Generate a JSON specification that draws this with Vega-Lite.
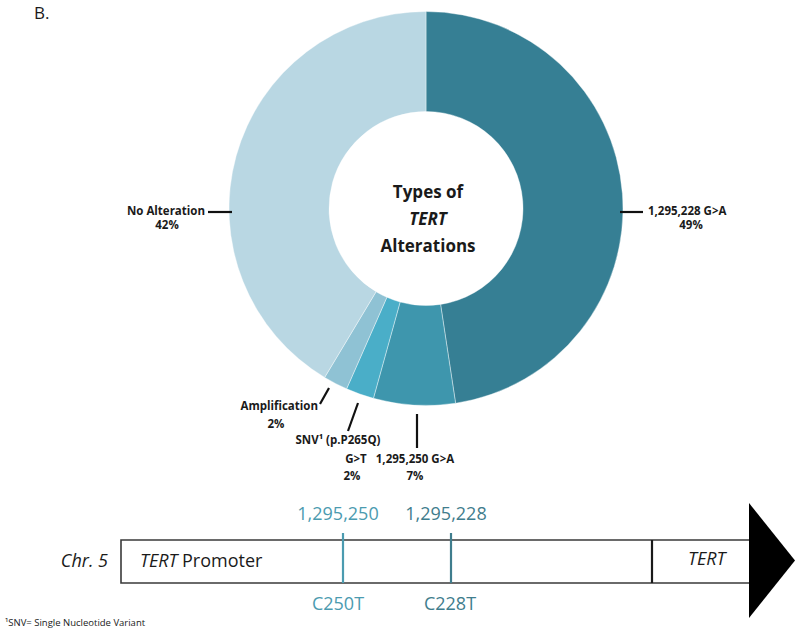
{
  "$schema": "https://vega.github.io/schema/vega-lite/v6.json",
  "width": 800,
  "height": 637,
  "autosize": {"type": "none"},
  "padding": 0,
  "background": "white",
  "config": {"view": {"stroke": null}, "text": {"font": "Open Sans"}},
  "datasets": {
    "pie": [
      {"alteration": "1,295,228 G>A", "percent": 47.6, "ord": 1},
      {"alteration": "1,295,250 G>A", "percent": 6.7, "ord": 2},
      {"alteration": "SNV (p.P265Q) G>T", "percent": 2.3, "ord": 3},
      {"alteration": "Amplification", "percent": 2.0, "ord": 4},
      {"alteration": "No Alteration", "percent": 41.4, "ord": 5}
    ]
  },
  "layer": [
    {
      "data": {"name": "pie"},
      "mark": {"type": "arc", "radius": 197, "radius2": 97, "stroke": "#ffffff", "strokeWidth": 0.4},
      "encoding": {
        "theta": {"field": "percent", "type": "quantitative", "stack": true},
        "order": {"field": "ord", "type": "quantitative"},
        "color": {"field": "alteration", "type": "nominal", "legend": null,
          "scale": {"domain": ["1,295,228 G>A", "1,295,250 G>A", "SNV (p.P265Q) G>T", "Amplification", "No Alteration"],
                    "range": ["#367f94", "#3e96ad", "#4aaec8", "#8fc2d4", "#b9d7e3"]}},
        "x": {"datum": 426, "type": "quantitative", "scale": {"domain": [0, 800]}, "axis": null},
        "y": {"datum": 208.5, "type": "quantitative", "scale": {"domain": [0, 637], "reverse": true}, "axis": null}
      }
    },
    {
      "data": {"values": [
        {"t": "Types of", "x": 428, "y": 193},
        {"t": "Alterations", "x": 428, "y": 247}
      ]},
      "mark": {"type": "text", "fontSize": 17, "fontWeight": "bold", "color": "#1a1a1a", "align": "center", "baseline": "middle"},
      "encoding": {
        "text": {"field": "t"},
        "x": {"field": "x", "type": "quantitative", "scale": {"domain": [0, 800]}, "axis": null},
        "y": {"field": "y", "type": "quantitative", "scale": {"domain": [0, 637], "reverse": true}, "axis": null}
      }
    },
    {
      "data": {"values": [
        {"t": "TERT", "x": 428, "y": 220}
      ]},
      "mark": {"type": "text", "fontSize": 17, "fontWeight": "bold", "fontStyle": "italic", "color": "#1a1a1a", "align": "center", "baseline": "middle"},
      "encoding": {
        "text": {"field": "t"},
        "x": {"field": "x", "type": "quantitative", "scale": {"domain": [0, 800]}, "axis": null},
        "y": {"field": "y", "type": "quantitative", "scale": {"domain": [0, 637], "reverse": true}, "axis": null}
      }
    },
    {
      "data": {"values": [
        {"x": 208, "y": 212, "x2": 232, "y2": 212},
        {"x": 620, "y": 212, "x2": 643, "y2": 212},
        {"x": 320, "y": 404, "x2": 329, "y2": 388},
        {"x": 348, "y": 431, "x2": 358, "y2": 403},
        {"x": 417, "y": 448, "x2": 417, "y2": 414}
      ]},
      "mark": {"type": "rule", "color": "#111111", "strokeWidth": 2.2},
      "encoding": {
        "x": {"field": "x", "type": "quantitative", "scale": {"domain": [0, 800]}, "axis": null},
        "y": {"field": "y", "type": "quantitative", "scale": {"domain": [0, 637], "reverse": true}, "axis": null},
        "x2": {"field": "x2"},
        "y2": {"field": "y2"}
      }
    },
    {
      "data": {"values": [
        {"t": "No Alteration", "x": 205, "y": 212},
        {"t": "Amplification", "x": 318, "y": 407}
      ]},
      "mark": {"type": "text", "fontSize": 11.5, "fontWeight": "bold", "color": "#1a1a1a", "align": "right", "baseline": "middle"},
      "encoding": {
        "text": {"field": "t"},
        "x": {"field": "x", "type": "quantitative", "scale": {"domain": [0, 800]}, "axis": null},
        "y": {"field": "y", "type": "quantitative", "scale": {"domain": [0, 637], "reverse": true}, "axis": null}
      }
    },
    {
      "data": {"values": [
        {"t": "1,295,228 G>A", "x": 648, "y": 212}
      ]},
      "mark": {"type": "text", "fontSize": 11.5, "fontWeight": "bold", "color": "#1a1a1a", "align": "left", "baseline": "middle"},
      "encoding": {
        "text": {"field": "t"},
        "x": {"field": "x", "type": "quantitative", "scale": {"domain": [0, 800]}, "axis": null},
        "y": {"field": "y", "type": "quantitative", "scale": {"domain": [0, 637], "reverse": true}, "axis": null}
      }
    },
    {
      "data": {"values": [
        {"t": "42%", "x": 167, "y": 226},
        {"t": "49%", "x": 691, "y": 226},
        {"t": "2%", "x": 276, "y": 425},
        {"t": "SNV¹ (p.P265Q)", "x": 338, "y": 441},
        {"t": "G>T", "x": 356, "y": 460},
        {"t": "2%", "x": 352, "y": 477},
        {"t": "1,295,250 G>A", "x": 415, "y": 460},
        {"t": "7%", "x": 415, "y": 477}
      ]},
      "mark": {"type": "text", "fontSize": 11.5, "fontWeight": "bold", "color": "#1a1a1a", "align": "center", "baseline": "middle"},
      "encoding": {
        "text": {"field": "t"},
        "x": {"field": "x", "type": "quantitative", "scale": {"domain": [0, 800]}, "axis": null},
        "y": {"field": "y", "type": "quantitative", "scale": {"domain": [0, 637], "reverse": true}, "axis": null}
      }
    },
    {
      "data": {"values": [{"x": 121, "x2": 752, "y": 540, "y2": 583}]},
      "mark": {"type": "rect", "fill": "#ffffff", "stroke": "#3a3a3a", "strokeWidth": 1.6},
      "encoding": {
        "x": {"field": "x", "type": "quantitative", "scale": {"domain": [0, 800]}, "axis": null},
        "y": {"field": "y", "type": "quantitative", "scale": {"domain": [0, 637], "reverse": true}, "axis": null},
        "x2": {"field": "x2"},
        "y2": {"field": "y2"}
      }
    },
    {
      "data": {"values": [{"x": 652, "y": 540, "y2": 583}]},
      "mark": {"type": "rule", "color": "#1a1a1a", "strokeWidth": 2.2},
      "encoding": {
        "x": {"field": "x", "type": "quantitative", "scale": {"domain": [0, 800]}, "axis": null},
        "y": {"field": "y", "type": "quantitative", "scale": {"domain": [0, 637], "reverse": true}, "axis": null},
        "y2": {"field": "y2"}
      }
    },
    {
      "data": {"values": [{"x": 343, "y": 533, "y2": 583}]},
      "mark": {"type": "rule", "color": "#4b9bb0", "strokeWidth": 2.2},
      "encoding": {
        "x": {"field": "x", "type": "quantitative", "scale": {"domain": [0, 800]}, "axis": null},
        "y": {"field": "y", "type": "quantitative", "scale": {"domain": [0, 637], "reverse": true}, "axis": null},
        "y2": {"field": "y2"}
      }
    },
    {
      "data": {"values": [{"x": 451, "y": 533, "y2": 583}]},
      "mark": {"type": "rule", "color": "#3f7d8d", "strokeWidth": 2.2},
      "encoding": {
        "x": {"field": "x", "type": "quantitative", "scale": {"domain": [0, 800]}, "axis": null},
        "y": {"field": "y", "type": "quantitative", "scale": {"domain": [0, 637], "reverse": true}, "axis": null},
        "y2": {"field": "y2"}
      }
    },
    {
      "data": {"values": [
        {"x": 749, "y": 503, "y2": 618},
        {"x": 795, "y": 560.5, "y2": 560.5}
      ]},
      "mark": {"type": "area", "color": "#000000", "orient": "vertical"},
      "encoding": {
        "x": {"field": "x", "type": "quantitative", "scale": {"domain": [0, 800]}, "axis": null},
        "y": {"field": "y", "type": "quantitative", "scale": {"domain": [0, 637], "reverse": true}, "axis": null},
        "y2": {"field": "y2"}
      }
    },
    {
      "data": {"values": [
        {"t": "1,295,250", "x": 338, "y": 515},
        {"t": "C250T", "x": 338, "y": 605}
      ]},
      "mark": {"type": "text", "fontSize": 18, "color": "#4b9bb0", "align": "center", "baseline": "middle"},
      "encoding": {
        "text": {"field": "t"},
        "x": {"field": "x", "type": "quantitative", "scale": {"domain": [0, 800]}, "axis": null},
        "y": {"field": "y", "type": "quantitative", "scale": {"domain": [0, 637], "reverse": true}, "axis": null}
      }
    },
    {
      "data": {"values": [
        {"t": "1,295,228", "x": 446, "y": 515},
        {"t": "C228T", "x": 450, "y": 605}
      ]},
      "mark": {"type": "text", "fontSize": 18, "color": "#3f7d8d", "align": "center", "baseline": "middle"},
      "encoding": {
        "text": {"field": "t"},
        "x": {"field": "x", "type": "quantitative", "scale": {"domain": [0, 800]}, "axis": null},
        "y": {"field": "y", "type": "quantitative", "scale": {"domain": [0, 637], "reverse": true}, "axis": null}
      }
    },
    {
      "data": {"values": [
        {"t": "Chr. 5", "x": 108, "y": 562}
      ]},
      "mark": {"type": "text", "fontSize": 18, "fontStyle": "italic", "color": "#1a1a1a", "align": "right", "baseline": "middle"},
      "encoding": {
        "text": {"field": "t"},
        "x": {"field": "x", "type": "quantitative", "scale": {"domain": [0, 800]}, "axis": null},
        "y": {"field": "y", "type": "quantitative", "scale": {"domain": [0, 637], "reverse": true}, "axis": null}
      }
    },
    {
      "data": {"values": [
        {"t": "TERT", "x": 140, "y": 562},
        {"t": "TERT", "x": 688, "y": 560}
      ]},
      "mark": {"type": "text", "fontSize": 18, "fontStyle": "italic", "color": "#1a1a1a", "align": "left", "baseline": "middle"},
      "encoding": {
        "text": {"field": "t"},
        "x": {"field": "x", "type": "quantitative", "scale": {"domain": [0, 800]}, "axis": null},
        "y": {"field": "y", "type": "quantitative", "scale": {"domain": [0, 637], "reverse": true}, "axis": null}
      }
    },
    {
      "data": {"values": [
        {"t": "Promoter", "x": 182, "y": 562}
      ]},
      "mark": {"type": "text", "fontSize": 18, "color": "#1a1a1a", "align": "left", "baseline": "middle"},
      "encoding": {
        "text": {"field": "t"},
        "x": {"field": "x", "type": "quantitative", "scale": {"domain": [0, 800]}, "axis": null},
        "y": {"field": "y", "type": "quantitative", "scale": {"domain": [0, 637], "reverse": true}, "axis": null}
      }
    },
    {
      "data": {"values": [
        {"t": "¹SNV= Single Nucleotide Variant", "x": 5, "y": 623}
      ]},
      "mark": {"type": "text", "fontSize": 9.5, "color": "#1a1a1a", "align": "left", "baseline": "middle"},
      "encoding": {
        "text": {"field": "t"},
        "x": {"field": "x", "type": "quantitative", "scale": {"domain": [0, 800]}, "axis": null},
        "y": {"field": "y", "type": "quantitative", "scale": {"domain": [0, 637], "reverse": true}, "axis": null}
      }
    },
    {
      "data": {"values": [
        {"t": "B.", "x": 34, "y": 14}
      ]},
      "mark": {"type": "text", "fontSize": 17, "color": "#1a1a1a", "align": "left", "baseline": "middle"},
      "encoding": {
        "text": {"field": "t"},
        "x": {"field": "x", "type": "quantitative", "scale": {"domain": [0, 800]}, "axis": null},
        "y": {"field": "y", "type": "quantitative", "scale": {"domain": [0, 637], "reverse": true}, "axis": null}
      }
    }
  ]
}
